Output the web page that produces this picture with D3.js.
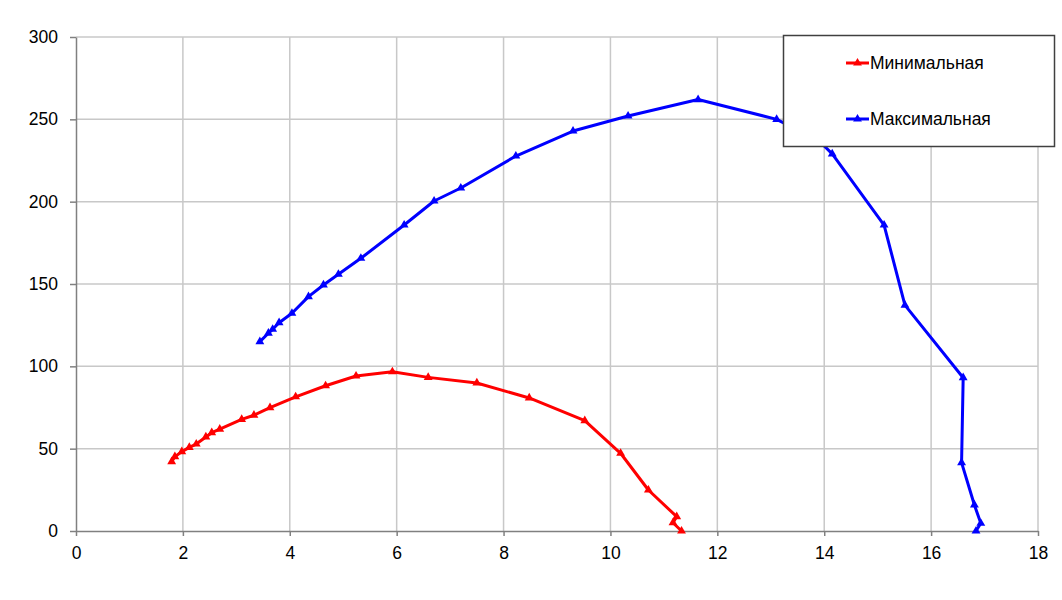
<!DOCTYPE html>
<html>
<head>
<meta charset="utf-8">
<script src="https://cdn.jsdelivr.net/npm/d3@7"></script>
<style>
html, body { margin: 0; padding: 0; background: #fff; }
svg { display: block; font-family: "Liberation Sans", Arial, sans-serif; }
</style>
</head>
<body>
<svg id="chart" width="1062" height="600"></svg>
<script>
const seriesNames = ["Минимальная", "Максимальная"];
const seriesColors = ["#FF0000", "#0000FF"];

const minX = [1.79, 1.85, 1.98, 2.12, 2.25, 2.43, 2.54, 2.69, 3.10, 3.33, 3.63, 4.11, 4.67, 5.24, 5.92, 6.59, 7.50, 8.48, 9.52, 10.19, 10.71, 11.24, 11.17, 11.33];
const minY = [42.1, 45.1, 48.2, 50.8, 52.8, 57.1, 59.7, 61.8, 67.8, 70.3, 74.9, 81.5, 88.2, 94.1, 96.7, 93.3, 89.9, 80.8, 67.0, 47.2, 24.9, 8.7, 5.0, 0];

const maxX = [3.44, 3.60, 3.68, 3.80, 4.04, 4.35, 4.63, 4.91, 5.33, 6.14, 6.70, 7.20, 8.23, 9.30, 10.33, 11.64, 13.11, 13.90, 14.15, 15.12, 15.51, 16.60, 16.57, 16.81, 16.93, 16.84];
const maxY = [115.0, 120.1, 122.5, 126.5, 132.2, 142.3, 149.4, 155.9, 165.6, 185.8, 200.4, 208.3, 227.7, 242.9, 252.0, 262.0, 250.0, 237.0, 229.0, 185.8, 137.2, 93.1, 41.5, 15.8, 4.7, 0];

const xTicks = [0, 2, 4, 6, 8, 10, 12, 14, 16, 18];
const yTicks = [0, 50, 100, 150, 200, 250, 300];

const svg = d3.select("#chart");
const mLeft = 76, mRight = 1038, mTop = 37, mBottom = 531;
const fontSize = "17.5px";

const x = d3.scaleLinear().domain([0, 18]).range([mLeft, mRight]);
const y = d3.scaleLinear().domain([0, 300]).range([mBottom, mTop]);

// gridlines
const grid = svg.append("g");
grid.selectAll("line.h").data(yTicks.filter(d => d > 0)).join("line")
  .attr("class", "h")
  .attr("x1", mLeft).attr("x2", mRight)
  .attr("y1", d => y(d)).attr("y2", d => y(d))
  .attr("stroke", "#c8c8c8").attr("stroke-width", 1.5);
grid.selectAll("line.v").data(xTicks.filter(d => d > 0)).join("line")
  .attr("class", "v")
  .attr("x1", d => x(d)).attr("x2", d => x(d))
  .attr("y1", mTop).attr("y2", mBottom)
  .attr("stroke", "#c8c8c8").attr("stroke-width", 1.5);

// axes
const xAxis = d3.axisBottom(x).tickValues(xTicks).tickSize(5).tickSizeOuter(0).tickPadding(11);
const yAxis = d3.axisLeft(y).tickValues(yTicks).tickSize(6).tickSizeOuter(0).tickPadding(12);

const gx = svg.append("g").attr("transform", `translate(0,${mBottom})`).call(xAxis);
const gy = svg.append("g").attr("transform", `translate(${mLeft},0)`).call(yAxis);
[gx, gy].forEach(g => {
  g.select(".domain").attr("stroke", "#808080").attr("stroke-width", 1.5);
  g.selectAll(".tick line").attr("stroke", "#808080").attr("stroke-width", 1.5);
  g.selectAll(".tick text").attr("fill", "#000").style("font-size", fontSize)
    .style("font-family", "'Liberation Sans', Arial, sans-serif");
});

// series
const series = [
  { name: seriesNames[0], color: seriesColors[0], pts: minX.map((v, i) => [v, minY[i]]) },
  { name: seriesNames[1], color: seriesColors[1], pts: maxX.map((v, i) => [v, maxY[i]]) }
];
const line = d3.line().x(d => x(d[0])).y(d => y(d[1]));
const tri = d3.symbol().type(d3.symbolTriangle).size(34);

series.forEach(s => {
  svg.append("path").datum(s.pts).attr("d", line)
    .attr("fill", "none").attr("stroke", s.color).attr("stroke-width", 3)
    .attr("stroke-linejoin", "round");
  svg.append("g").selectAll("path").data(s.pts).join("path")
    .attr("d", tri)
    .attr("transform", d => `translate(${x(d[0])},${y(d[1])})`)
    .attr("fill", s.color);
});

// legend
const lg = svg.append("g");
lg.append("rect").attr("x", 783.5).attr("y", 35.5).attr("width", 271).attr("height", 111)
  .attr("fill", "#fff").attr("stroke", "#404040").attr("stroke-width", 1.5);
series.forEach((s, i) => {
  const cy = 63 + i * 56;
  lg.append("line").attr("x1", 846).attr("x2", 869).attr("y1", cy).attr("y2", cy)
    .attr("stroke", s.color).attr("stroke-width", 3);
  lg.append("path").attr("d", tri).attr("transform", `translate(857.5,${cy})`).attr("fill", s.color);
  lg.append("text").attr("x", 870).attr("y", cy).attr("dy", "0.35em")
    .style("font-size", fontSize).attr("fill", "#000").text(s.name);
});
</script>
</body>
</html>
